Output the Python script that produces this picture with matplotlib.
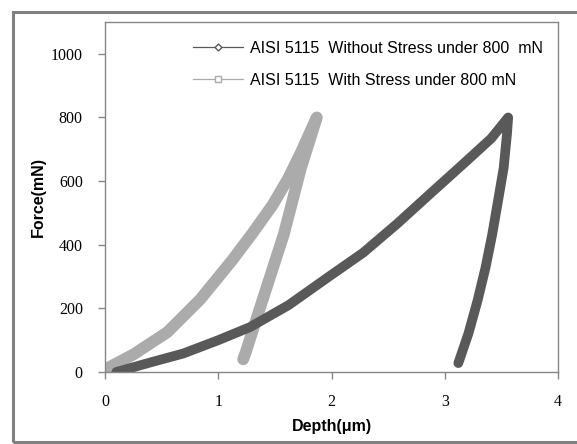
import matplotlib.pyplot as plt
from matplotlib.lines import Line2D
from matplotlib.patches import Rectangle

# without stress: loading then unloading
depth_plain = [0.10, 0.40, 0.69, 1.00, 1.28, 1.62, 1.99, 2.28, 2.58, 2.88, 3.17, 3.41, 3.56,
               3.55, 3.52, 3.47, 3.42, 3.36, 3.29, 3.21, 3.12]
force_plain = [0, 30, 58, 100, 141, 210, 303, 375, 466, 563, 656, 734, 800,
               750, 641, 537, 434, 328, 225, 122, 28]

# with stress: loading then unloading
depth_stress = [0.00, 0.25, 0.55, 0.84, 1.12, 1.30, 1.48, 1.62, 1.73, 1.87,
                1.80, 1.73, 1.58, 1.39, 1.24, 1.22]
force_stress = [8, 55, 125, 228, 350, 435, 525, 610, 690, 800,
                720, 641, 434, 225, 59, 40]

labels = ["AISI 5115  Without Stress under 800  mN", "AISI 5115  With Stress under 800 mN"]
dark = "#595959"
light = "#ababab"

fig = plt.figure(figsize=(5.77, 4.44), dpi=100)
fig.patches.append(Rectangle((13 / 577, 2 / 444), 1.0, 430 / 444, transform=fig.transFigure,
                             fill=False, edgecolor="#808080", linewidth=2.2))
ax = fig.add_axes([105 / 577, 72 / 444, 453 / 577, 350 / 444])

ax.plot(depth_stress, force_stress, color=light, linewidth=8.5,
        solid_capstyle="round", solid_joinstyle="round")
ax.plot(depth_plain, force_plain, color=dark, linewidth=7,
        solid_capstyle="round", solid_joinstyle="round")

ax.set_xlim(0, 4)
ax.set_ylim(0, 1100)
ax.set_xticks([0, 1, 2, 3, 4])
ax.set_yticks([0, 200, 400, 600, 800, 1000])
for s in ax.spines.values():
    s.set_color("#868686")
    s.set_linewidth(1.0)
ax.tick_params(direction="out", length=5, width=1, color="#868686", pad=11,
               labelsize=11.5, labelcolor="black")
for t in ax.get_xticklabels() + ax.get_yticklabels():
    t.set_family("Liberation Serif")

ax.set_xlabel("Depth(\u03bcm)", fontsize=11.5, fontweight="bold", family="Liberation Sans")
ax.set_ylabel("Force(mN)", fontsize=11.5, fontweight="bold", family="Liberation Sans")
ax.xaxis.set_label_coords(0.5, -0.133)
ax.yaxis.set_label_coords(-0.131, 0.5)

handles = [
    Line2D([], [], color=dark, linewidth=0.9, marker="D", markersize=3.5,
           markerfacecolor="white", markeredgecolor=dark),
    Line2D([], [], color=light, linewidth=0.9, marker="s", markersize=4.5,
           markerfacecolor="white", markeredgecolor=light),
]
ax.legend(handles, labels, loc="upper left", bbox_to_anchor=(193 / 577, 1 - 41 / 444),
          bbox_transform=fig.transFigure, frameon=False, borderpad=0, borderaxespad=0,
          prop={"family": "Liberation Sans", "size": 11.5}, handlelength=3.1,
          labelspacing=1.05, handletextpad=0.45)

fig.savefig("out.png", dpi=100)
